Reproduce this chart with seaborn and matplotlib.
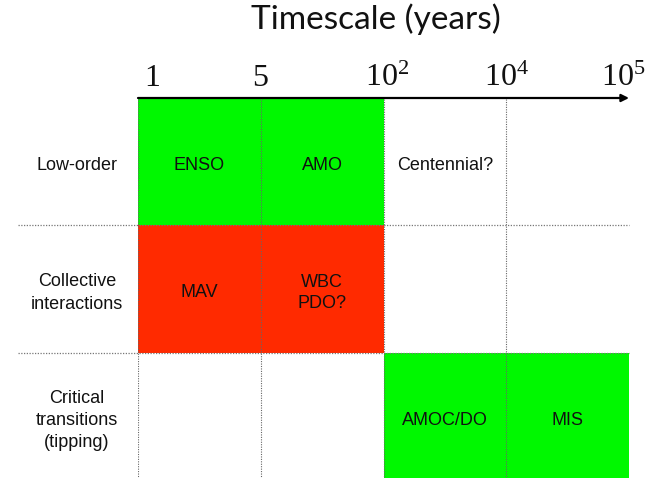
import numpy as np
import matplotlib
matplotlib.use("Agg")
import matplotlib.pyplot as plt
import matplotlib.transforms as mtransforms
from matplotlib.colors import ListedColormap
import seaborn as sns

# ---- data ----
row_labels = ["Low-order", "Collective\ninteractions", "Critical\ntransitions\n(tipping)"]
tick_labels = ["$1$", "$5$", "$10^2$", "$10^4$", "$10^5$"]
# cell category: 0 = none, 1 = green, 2 = red
low_order = [1, 1, 0, 0]
collective = [2, 2, 0, 0]
critical = [0, 0, 1, 1]
low_order_text = ["ENSO", "AMO", "Centennial?", ""]
collective_text = ["MAV", "WBC\nPDO?", "", ""]
critical_text = ["", "", "AMOC/DO", "MIS"]
title = "Timescale (years)"

sns.set_theme(style="white")
plt.rcParams["font.family"] = ["Liberation Sans", "DejaVu Sans"]
plt.rcParams["mathtext.fontset"] = "custom"
plt.rcParams["mathtext.rm"] = "Liberation Serif"
plt.rcParams["mathtext.it"] = "Liberation Serif:italic"
plt.rcParams["mathtext.bf"] = "Liberation Serif:bold"

W, H = 659, 478
fig = plt.figure(figsize=(W / 100, H / 100), dpi=100)
ax = fig.add_axes([138 / W, 1 - 480 / H, (629 - 138) / W, (480 - 98) / H])

values = np.array([low_order, collective, critical])
texts = np.array([low_order_text, collective_text, critical_text], dtype=object)
cmap = ListedColormap(["#ffffff", "#00f800", "#ff2a00"])

sns.heatmap(values, ax=ax, cmap=cmap, vmin=-0.5, vmax=2.5, cbar=False,
            annot=texts, fmt="", annot_kws={"color": "#111111", "fontsize": 13,
                                             "linespacing": 1.3},
            xticklabels=False, yticklabels=row_labels, linewidths=0)

down = mtransforms.ScaledTranslation(0, -4 / 100, fig.dpi_scale_trans)
for t in ax.texts:
    t.set_transform(t.get_transform() + down)

# row labels
ax.tick_params(axis="y", length=0, pad=44, labelsize=13, labelcolor="#111111")
for lab in ax.get_yticklabels():
    lab.set_rotation(0)
    lab.set_ha("center")
    lab.set_va("center")
    lab.set_multialignment("center")
    lab.set_linespacing(1.4)
    lab.set_transform(lab.get_transform() + down)

# top timescale axis
ax.set_xticks(np.arange(len(tick_labels)))
ax.set_xticklabels(tick_labels)
ax.xaxis.tick_top()
ax.tick_params(axis="x", length=0, pad=3.5, labelsize=23, labelcolor="#111111")
nudges = [14, 0, 4, 0, -6]
for lab, dx in zip(ax.get_xticklabels(), nudges):
    lab.set_transform(lab.get_transform() + mtransforms.ScaledTranslation(dx / 100, 0, fig.dpi_scale_trans))

# arrow axis line
ax.annotate("", xy=(1.0, 1.0), xytext=(0.0, 1.0), xycoords="axes fraction",
            textcoords="axes fraction", annotation_clip=False,
            arrowprops=dict(arrowstyle="-|>", color="black", lw=1.6,
                            mutation_scale=11, shrinkA=0, shrinkB=0))

# dotted grid lines
for x in range(len(tick_labels) - 1):
    ax.axvline(x, color="#666666", lw=0.8, ls=(0, (1, 1.2)), zorder=3)
for y in range(1, len(row_labels)):
    ax.axhline(y, xmin=-0.245, xmax=1.0, color="#777777", lw=0.9,
               ls=(0, (1, 1.2)), zorder=3, clip_on=False)

fig.text(376 / W, 1 - 29 / H, title, ha="center", va="baseline",
         fontsize=24, family=["Lato", "DejaVu Sans"], color="#111111")

fig.savefig("out.png", dpi=100)
